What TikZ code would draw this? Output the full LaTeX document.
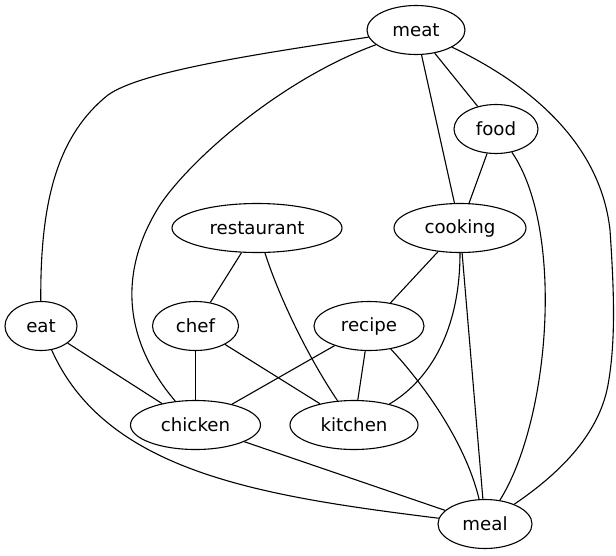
\documentclass[tikz,border=0pt]{standalone}
\usepackage{fontspec}
\setmainfont{DejaVu Sans}
\usepackage{tikz}
\usetikzlibrary{shapes.geometric}
\tikzstyle{word} = [ellipse, inner sep=0pt, minimum height=49pt, text centered, draw=black, line width=1.1pt, font=\fontsize{18.2}{21}\selectfont]
\tikzstyle{edge} = [line width=1.1pt, black]

\begin{document}
\begin{tikzpicture}[x=1pt, y=-1pt, node distance=99pt]
\useasboundingbox (0,0) rectangle (616,555);
\node (meat) [word, minimum width=98pt] at (416,30) {meat};
\node (food) [word, minimum width=84pt] at (496,129) {food};
\node (restaurant) [word, minimum width=170pt] at (257,228) {restaurant};
\node (cooking) [word, minimum width=132pt] at (460,228) {cooking};
\node (eat) [word, minimum width=72pt] at (41,326) {eat};
\node (chef) [word, minimum width=86pt] at (195.5,326) {chef};
\node (recipe) [word, minimum width=110pt] at (369,326) {recipe};
\node (chicken) [word, minimum width=130pt, below of=chef] {chicken};
\node (kitchen) [word, minimum width=128pt] at (354,425) {kitchen};
\node (meal) [word, minimum width=94pt] at (485,524) {meal};

\draw [edge] (meat) -- (food);
\draw [edge] (meat) -- (cooking);
\draw [edge] (meat) .. controls (250,55) and (140,72) .. (108,95) .. controls (58,135) and (40,200) .. (eat);
\draw [edge] (meat) .. controls (280,80) and (190,160) .. (160,205) .. controls (125,260) and (115,330) .. (chicken);
\draw [edge] (meat) .. controls (525,82) and (600,140) .. (610,230) .. controls (614,290) and (616,340) .. (608,385) .. controls (598,440) and (550,480) .. (meal);
\draw [edge] (food) -- (cooking);
\draw [edge] (food) .. controls (565,230) and (550,420) .. (meal);
\draw [edge] (restaurant) -- (chef);
\draw [edge] (restaurant) .. controls (280,300) and (310,360) .. (kitchen);
\draw [edge] (cooking) -- (recipe);
\draw [edge] (cooking) .. controls (460,330) and (430,380) .. (kitchen);
\draw [edge] (cooking) -- (meal);
\draw [edge] (eat) -- (chicken);
\draw [edge] (eat) .. controls (106,472) and (260,496) .. (meal);
\draw [edge] (chef) -- (chicken);
\draw [edge] (chef) -- (kitchen);
\draw [edge] (recipe) -- (chicken);
\draw [edge] (recipe) -- (kitchen);
\draw [edge] (recipe) .. controls (420,380) and (465,440) .. (meal);
\draw [edge] (chicken) -- (meal);

\end{tikzpicture}
\end{document}
